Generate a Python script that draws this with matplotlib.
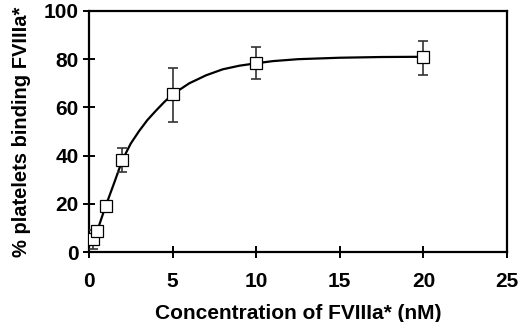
import matplotlib
matplotlib.use("Agg")
import matplotlib.pyplot as plt

# measured points
conc = [0.25, 0.5, 1, 2, 5, 10, 20]
binding = [5.4, 8.8, 19.1, 38.2, 65.4, 78.3, 81.0]
err_lo = [3.9, 1.5, 1.0, 5.0, 11.4, 6.6, 7.6]
err_hi = [3.6, 1.5, 1.0, 5.1, 10.9, 6.7, 6.5]

# smoothed curve
curve_x = [0.25, 0.5, 0.75, 1, 1.5, 2, 2.5, 3, 3.5, 4, 4.5, 5,
           6, 7, 8, 9, 10, 11, 12.5, 15, 17.5, 20]
curve_y = [5.4, 8.8, 14.0, 19.1, 28.5, 38.2, 45.0, 50.2, 54.8, 58.6, 62.2, 65.4,
           70.0, 73.3, 75.8, 77.3, 78.3, 79.2, 80.0, 80.6, 80.9, 81.0]

plt.rcParams['font.family'] = ['Liberation Sans', 'DejaVu Sans']
plt.rcParams['font.weight'] = 'bold'

fig = plt.figure(figsize=(5.2, 3.22), dpi=100)
ax = fig.add_axes([0.171, 0.217, 0.804, 0.749])

ax.plot(curve_x, curve_y, color='black', lw=1.6, zorder=2)
ax.errorbar(conc, binding, yerr=[err_lo, err_hi], fmt='none', ecolor='#333333',
            elinewidth=1.2, capsize=3.5, capthick=1.2, zorder=3)
ax.plot(conc, binding, ls='none', marker='s', ms=8.5, mfc='white', mec='black',
        mew=0.9, zorder=4)

ax.set_xlim(0, 25)
ax.set_ylim(0, 100)
ax.set_xticks([0, 5, 10, 15, 20, 25])
ax.set_yticks([0, 20, 40, 60, 80, 100])
for s in ax.spines.values():
    s.set_linewidth(1.6)
ax.tick_params(direction='inout', length=9, width=1.4, labelsize=15, pad=3)
ax.tick_params(axis='x', pad=10)
for lab in ax.get_xticklabels() + ax.get_yticklabels():
    lab.set_fontweight('bold')

ax.set_xlabel('Concentration of FVIIIa* (nM)', fontsize=15, fontweight='bold', labelpad=9)
ax.set_ylabel('% platelets binding FVIIIa*', fontsize=14.5, fontweight='bold', labelpad=9)

fig.savefig('out.png', dpi=100)
